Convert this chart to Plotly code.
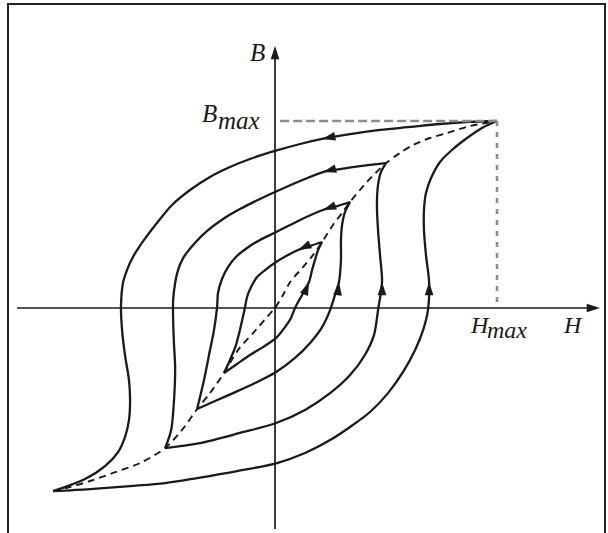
import plotly.graph_objects as go

# Hysteresis loops; H and B are given in percent of H_max and B_max.

# Outer (saturation) loop
outer_down_h = [100, 87.8, 74.3, 60.8, 47.3, 33.8, 21.2, 11.3, 0, -11.3,
                -20.3, -29.3, -38.3, -46.4, -53.2, -59.0, -64.0, -66.7, -68.5, -69.4,
                -68.9, -67.6, -65.8, -65.3, -65.8, -67.6, -70.7, -76.6, -85.6, -100]
outer_down_b = [100, 99.5, 98.4, 96.8, 95.2, 93.0, 90.4, 87.7, 84.0, 79.7,
                75.4, 70.1, 63.1, 55.1, 45.5, 36.4, 27.3, 20.3, 13.4, 0.5,
                -11.8, -25.1, -38.5, -49.2, -59.9, -69.0, -77.0, -84.5, -91.4, -97.9]
outer_up_h = [-100, -83.3, -65.3, -49.5, -35.1, -17.1, 0.9, 13.5, 24.8, 33.8,
              42.8, 50.9, 57.7, 63.1, 66.7, 68.9, 69.4, 68.0, 67.1, 67.1,
              68.0, 70.3, 74.3, 79.7, 86.5, 93.2, 100]
outer_up_b = [-97.9, -96.8, -95.2, -93.6, -90.9, -87.2, -82.9, -77.5, -70.6, -63.6,
              -55.6, -45.5, -34.2, -22.5, -11.8, -1.1, 13.9, 28.3, 41.7, 52.4,
              61.5, 69.5, 78.1, 84.5, 90.9, 96.3, 100]

# Third loop
loop3_down_h = [50.0, 38.3, 29.3, 21.6, 11.3, 0.5, -7.7, -15.8, -23.4, -30.6, -36.5,
                -41.4, -43.7, -45.0, -45.9, -45.9, -45.5, -45.0, -45.5, -46.8, -49.5]
loop3_down_b = [77.5, 75.9, 74.3, 72.7, 67.9, 62.3, 57.8, 52.9, 47.6, 41.2, 34.2,
                26.7, 20.3, 13.4, 4.3, -6.4, -19.8, -31.6, -49.2, -65.2, -74.9]
loop3_up_h = [-49.5, -33.8, -15.8, 0.5, 13.5, 24.8, 33.8, 40.5, 44.6, 46.4,
              48.2, 47.3, 46.4, 45.9, 46.4, 47.7, 50.0]
loop3_up_b = [-74.9, -72.2, -66.8, -61.5, -54.5, -45.5, -35.8, -25.1, -14.4, -1.1,
              13.9, 28.3, 41.7, 55.1, 65.8, 72.7, 77.5]

# Second loop
loop2_down_h = [33.8, 27.9, 21.6, 11.3, 0.5, -6.8, -12.6, -17.6, -21.2, -23.9,
                -25.7, -26.1, -27.5, -29.3, -32.0, -35.1]
loop2_down_b = [56.7, 54.5, 52.4, 47.1, 40.6, 36.4, 32.1, 27.3, 21.9, 15.5,
                8.0, 0.5, -11.8, -22.5, -38.5, -54.0]
loop2_up_h = [-35.1, -27.0, -18.9, -9.0, 0.5, 9.0, 15.8, 21.2, 24.8, 27.0,
              28.8, 29.7, 29.7, 30.2, 31.5, 33.8]
loop2_up_b = [-54.0, -49.7, -45.5, -40.1, -34.2, -26.7, -18.7, -10.2, -1.1, 7.0,
              13.9, 25.7, 36.4, 44.4, 51.3, 56.7]

# Innermost loop
loop1_down_h = [21.2, 15.8, 10.4, 5.0, 0.5, -4.5, -8.1, -10.8, -12.6, -13.5,
                -15.3, -17.6, -20.3, -23.0]
loop1_down_b = [35.3, 33.2, 31.0, 27.8, 24.6, 20.3, 16.6, 11.2, 5.9, 0.5,
                -9.1, -19.8, -27.8, -34.8]
loop1_up_h = [-23.0, -17.1, -11.3, -5.4, 0.5, 4.5, 7.2, 9.0, 12.2, 15.3,
              16.7, 18.0, 19.4, 21.2]
loop1_up_b = [-34.8, -29.9, -25.1, -20.9, -16.0, -10.2, -5.3, 0, 7.0, 13.9,
              20.3, 25.7, 31.0, 35.3]

# Normal magnetisation curve through the loop tips
normal_h = [-100, -92.3, -83.3, -73.0, -60.8, -49.5, -41.9, -35.1, -29.3, -23.0,
            -16.7, -9.9, -3.6, 0, 3.6, 6.8, 12.6, 17.1, 21.2, 26.1,
            30.2, 33.8, 41.4, 50.0, 56.3, 62.2, 69.8, 77.5, 87.8, 100]
normal_b = [-97.9, -95.7, -92.5, -88.2, -82.9, -74.9, -65.2, -54.0, -45.5, -34.8,
            -22.5, -13.4, -4.8, 0, 7.0, 13.9, 21.9, 28.3, 35.3, 44.4,
            50.8, 56.7, 67.4, 77.5, 82.9, 87.2, 90.9, 93.6, 97.3, 100]

# Index of the direction arrow on each branch (leftward on falling, upward on rising)
falling_arrow_idx = [(outer_down_h, outer_down_b, 6), (loop3_down_h, loop3_down_b, 3),
                     (loop2_down_h, loop2_down_b, 2), (loop1_down_h, loop1_down_b, 2)]
rising_arrow_idx = [(outer_up_h, outer_up_b, 16), (loop3_up_h, loop3_up_b, 10),
                    (loop2_up_h, loop2_up_b, 10), (loop1_up_h, loop1_up_b, 9)]

H_MAX = 100
B_MAX = 100

INK = "#1a1a1a"
GUIDE = "#8c8c8c"
SERIF = "Liberation Serif, Times New Roman, serif"

fig = go.Figure()

branches = [
    (outer_down_h, outer_down_b), (outer_up_h, outer_up_b),
    (loop3_down_h, loop3_down_b), (loop3_up_h, loop3_up_b),
    (loop2_down_h, loop2_down_b), (loop2_up_h, loop2_up_b),
    (loop1_down_h, loop1_down_b), (loop1_up_h, loop1_up_b),
]
for h, b in branches:
    fig.add_trace(go.Scatter(
        x=h, y=b, mode="lines",
        line=dict(color=INK, width=2.3, shape="spline", smoothing=0.85),
        hoverinfo="skip", showlegend=False,
    ))

fig.add_trace(go.Scatter(
    x=normal_h, y=normal_b, mode="lines",
    line=dict(color=INK, width=1.9, dash="7px,5px", shape="spline", smoothing=0.8),
    hoverinfo="skip", showlegend=False,
))

# B_max / H_max guide lines
fig.add_trace(go.Scatter(
    x=[2.3, H_MAX], y=[B_MAX, B_MAX], mode="lines",
    line=dict(color=GUIDE, width=2.4, dash="9px,4px"),
    hoverinfo="skip", showlegend=False,
))
fig.add_trace(go.Scatter(
    x=[H_MAX, H_MAX], y=[B_MAX, 0], mode="lines",
    line=dict(color=GUIDE, width=2.6, dash="5px,6px"),
    hoverinfo="skip", showlegend=False,
))

# Direction arrows
arrow_h = [h[i] for h, b, i in falling_arrow_idx] + [h[i] for h, b, i in rising_arrow_idx]
arrow_b = [b[i] for h, b, i in falling_arrow_idx] + [b[i] for h, b, i in rising_arrow_idx]
arrow_angle = [258, 255, 250, 245, 0, 0, 6, 22]
fig.add_trace(go.Scatter(
    x=arrow_h, y=arrow_b, mode="markers",
    marker=dict(symbol="arrow", size=14, color=INK, angle=arrow_angle,
                line=dict(width=0)),
    hoverinfo="skip", showlegend=False,
))

# Coordinate axes
AXIS_H = [-116.2, 146.4]
AXIS_B = [-118.2, 140.1]
fig.add_trace(go.Scatter(x=[AXIS_H[0], AXIS_H[1] - 3], y=[0, 0], mode="lines",
                         line=dict(color=INK, width=1.7), hoverinfo="skip", showlegend=False))
fig.add_trace(go.Scatter(x=[0, 0], y=[AXIS_B[0], AXIS_B[1] - 3], mode="lines",
                         line=dict(color=INK, width=1.7), hoverinfo="skip", showlegend=False))
fig.add_trace(go.Scatter(x=[AXIS_H[1], 0], y=[0, AXIS_B[1]], mode="markers",
                         marker=dict(symbol="arrow", size=14, color=INK, angle=[90, 0],
                                     line=dict(width=0)),
                         hoverinfo="skip", showlegend=False))

# Axis labels
def label(x, y, text, size, xanchor):
    fig.add_annotation(x=x, y=y, text=text, showarrow=False, xanchor=xanchor,
                       yanchor="middle", font=dict(family=SERIF, size=size, color=INK))

label(-7.7, 136.4, "<i>B</i>", 25, "center")
label(-25.2, 104.0, "<i>B</i>", 25, "right")
label(-26.5, 100.4, "<i>max</i>", 25, "left")
label(87.0, -9.1, "<i>H</i>", 24, "left")
label(94.6, -11.8, "<i>max</i>", 24, "left")
label(128.8, -9.1, "<i>H</i>", 24, "left")

# Frame around the drawing
fig.add_shape(type="rect", xref="paper", yref="paper", x0=8 / 608, x1=605 / 608,
              y0=-0.05, y1=1 - 4 / 533, line=dict(color="#222222", width=2))

fig.update_layout(
    width=608, height=533,
    margin=dict(l=0, r=0, t=0, b=0),
    paper_bgcolor="white", plot_bgcolor="white",
    xaxis=dict(range=[-123.9, 150.0], visible=False, fixedrange=True),
    yaxis=dict(range=[-120.3, 164.7], visible=False, fixedrange=True),
)

fig.write_html("out.html")
